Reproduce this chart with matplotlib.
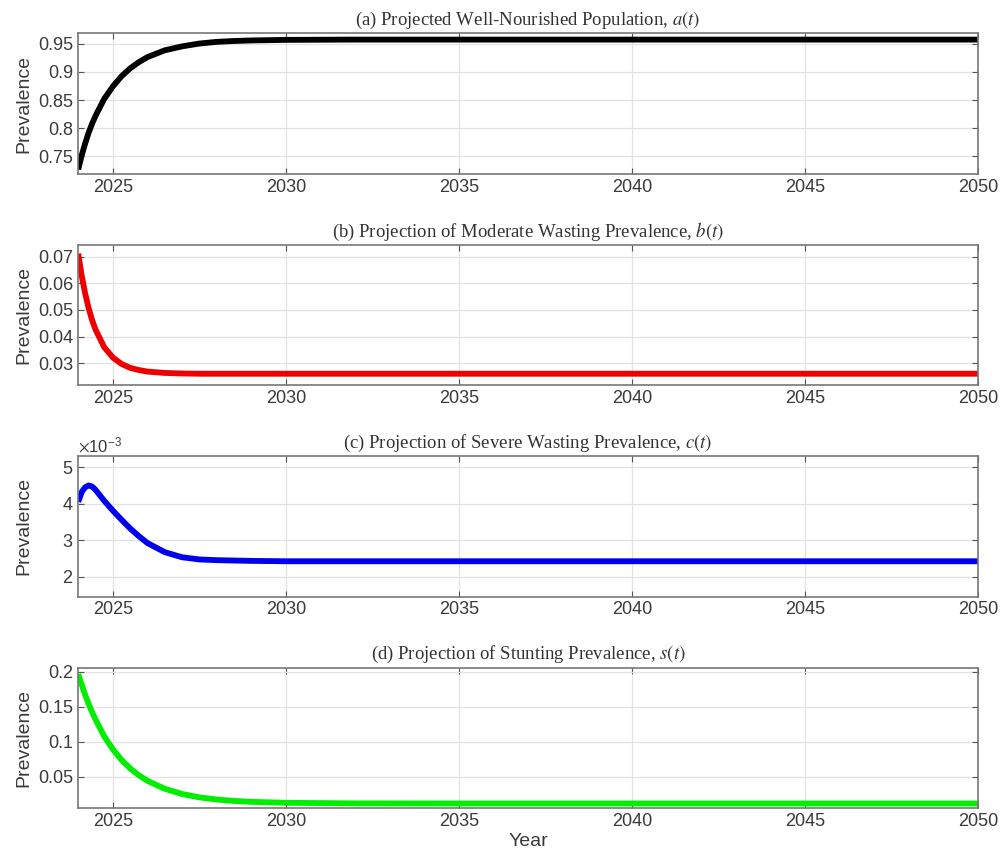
import numpy as np
import matplotlib
matplotlib.use('Agg')
import matplotlib.pyplot as plt
from matplotlib.ticker import FuncFormatter, ScalarFormatter

# values
years = [2024, 2024.1, 2024.2, 2024.3, 2024.4, 2024.5, 2024.75, 2025, 2025.25, 2025.5,
         2025.75, 2026, 2026.5, 2027, 2027.5, 2028, 2028.5, 2029, 2030, 2032,
         2035, 2040, 2045, 2050]

a_vals = [0.727, 0.752, 0.773, 0.792, 0.808, 0.822, 0.852, 0.874, 0.892, 0.906,
          0.917, 0.926, 0.938, 0.945, 0.950, 0.953, 0.9545, 0.9555, 0.9565, 0.957,
          0.957, 0.957, 0.957, 0.957]

b_vals = [0.0712, 0.0629, 0.0562, 0.0507, 0.0462, 0.0426, 0.0360, 0.0321, 0.0297, 0.0282,
          0.0274, 0.0268, 0.0263, 0.0261, 0.0260, 0.0260, 0.0260, 0.0260, 0.0260, 0.0260,
          0.0260, 0.0260, 0.0260, 0.0260]

c_vals_e3 = [4.05, 4.32, 4.45, 4.50, 4.47, 4.38, 4.08, 3.81, 3.56, 3.32,
             3.11, 2.92, 2.67, 2.53, 2.47, 2.45, 2.44, 2.43, 2.42, 2.42,
             2.42, 2.42, 2.42, 2.42]

s_vals = [0.197, 0.1817, 0.1674, 0.1545, 0.1426, 0.132, 0.108, 0.0895, 0.0744, 0.0622,
          0.0524, 0.0445, 0.0331, 0.0256, 0.0208, 0.0177, 0.0157, 0.0144, 0.0130, 0.0122,
          0.0120, 0.0120, 0.0120, 0.0120]

titles = ['(a) Projected Well-Nourished Population, $a(t)$',
          '(b) Projection of Moderate Wasting Prevalence, $b(t)$',
          '(c) Projection of Severe Wasting Prevalence, $c(t)$',
          '(d) Projection of Stunting Prevalence, $s(t)$']
colors = ['black', '#ee0000', '#0000ee', '#00ee00']
ylims = [(0.7195, 0.968), (0.0217, 0.0745), (1.45e-3, 5.3e-3), (0.0055, 0.206)]
yticks = [[0.75, 0.8, 0.85, 0.9, 0.95],
          [0.03, 0.04, 0.05, 0.06, 0.07],
          [2e-3, 3e-3, 4e-3, 5e-3],
          [0.05, 0.1, 0.15, 0.2]]

series = [a_vals, b_vals, list(np.array(c_vals_e3) * 1e-3), s_vals]

plt.rcParams['font.family'] = ['Liberation Sans', 'DejaVu Sans']
plt.rcParams['mathtext.fontset'] = 'stix'

fig, axes = plt.subplots(4, 1, figsize=(10.03, 8.56), dpi=100)
fig.subplots_adjust(left=0.078, right=0.975, top=0.961, bottom=0.056, hspace=0.507)

for i, ax in enumerate(axes):
    ax.plot(years, series[i], color=colors[i], lw=4.2, solid_capstyle='butt')
    ax.set_xlim(2024, 2050)
    ax.set_ylim(*ylims[i])
    ax.set_xticks([2025, 2030, 2035, 2040, 2045, 2050])
    ax.set_yticks(yticks[i])
    ax.grid(True, color='#e2e2e2', lw=0.9)
    ax.set_axisbelow(True)
    ax.tick_params(direction='in', top=True, right=True, length=4, width=0.8,
                   labelsize=13, colors='#555555', labelcolor='#3a3a3a')
    for sp in ax.spines.values():
        sp.set_color('#777777')
        sp.set_linewidth(1.2)
    ax.set_ylabel('Prevalence', fontsize=14, color='#3a3a3a')
    ax.set_title(titles[i], fontsize=13.5, family='Liberation Serif', color='#333333')
    if i == 2:
        fmt = ScalarFormatter(useMathText=True)
        fmt.set_powerlimits((-2, 2))
        ax.yaxis.set_major_formatter(fmt)
        ax.yaxis.get_offset_text().set_fontsize(12)
        ax.yaxis.get_offset_text().set_color('#3a3a3a')
    else:
        ax.yaxis.set_major_formatter(FuncFormatter(lambda v, p: '%g' % v))

fig.align_ylabels(axes)
axes[-1].set_xlabel('Year', fontsize=14, color='#3a3a3a', labelpad=2)

plt.savefig('out.png', dpi=100)
